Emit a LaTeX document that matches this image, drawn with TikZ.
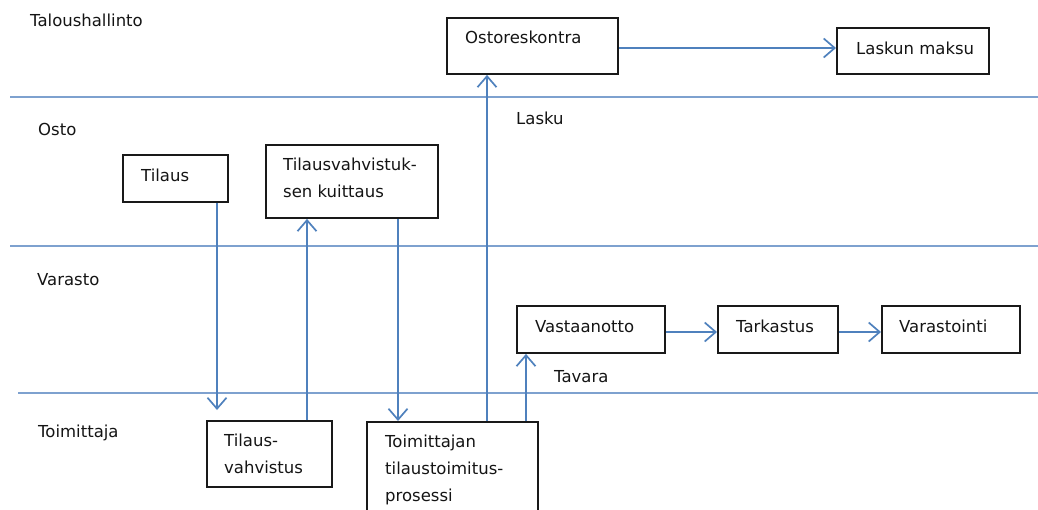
\documentclass[tikz,border=0pt]{standalone}
\usepackage{fontspec}
\setmainfont{DejaVu Sans}
\usetikzlibrary{arrows.meta}
\definecolor{flow}{HTML}{4F81BD}
\definecolor{lanecol}{HTML}{7EA1CF}
\definecolor{ink}{HTML}{141414}
\begin{document}
\begin{tikzpicture}[x=1pt,y=-1pt,
  font=\fontsize{16.5}{27}\selectfont,
  box/.style={draw=black!90, line width=1.9pt, inner sep=0pt, anchor=north west},
  txt/.style={anchor=base west, inner sep=0pt, text=ink, align=left},
  lanesep/.style={draw=lanecol, line width=2.4pt},
  flowarrow/.style={draw=flow, line width=1.7pt, -{Straight Barb[length=11pt,width=19pt,line width=1.7pt]}}]
\useasboundingbox (0,0) rectangle (1038,509);
% lane separators
\draw[lanesep] (10,97) -- (1038,97);
\draw[lanesep] (10,246) -- (1038,246);
\draw[lanesep] (18,393) -- (1038,393);
% lane labels
\node[txt] (l1) at (30,26) {Taloushallinto};
\node[txt] (l2) at (38,135) {Osto};
\node[txt] (l3) at (37,285) {Varasto};
\node[txt] (l4) at (38,437) {Toimittaja};
% boxes
\node[box, minimum width=171, minimum height=56] (ostor) at (446,17) {};
\node[box, minimum width=152, minimum height=46] (laskun) at (836,27) {};
\node[box, minimum width=105, minimum height=47] (tilaus) at (122,154) {};
\node[box, minimum width=172, minimum height=73] (kuitt) at (265,144) {};
\node[box, minimum width=148, minimum height=47] (vast) at (516,305) {};
\node[box, minimum width=120, minimum height=47] (tark) at (717,305) {};
\node[box, minimum width=138, minimum height=47] (varast) at (881,305) {};
\node[box, minimum width=125, minimum height=66] (vahv) at (206,420) {};
\node[box, minimum width=171, minimum height=100] (toim) at (366,421) {};
% box texts (multi-line nodes: base = last line)
\node[txt] (t1) at (465,43) {Ostoreskontra};
\node[txt] (t2) at (856,54) {Laskun maksu};
\node[txt] (t3) at (141,181) {Tilaus};
\node[txt] (t4) at (283,197) {Tilausvahvistuk-\\sen kuittaus};
\node[txt] (t5) at (535,332) {Vastaanotto};
\node[txt] (t6) at (736,332) {Tarkastus};
\node[txt] (t7) at (899,332) {Varastointi};
\node[txt] (t8) at (224,473) {Tilaus-\\vahvistus};
\node[txt] (t9) at (385,501) {Toimittajan\\tilaustoimitus-\\prosessi};
% edge labels
\node[txt] (lasku) at (516,124) {Lasku};
\node[txt] (tavara) at (554,382) {Tavara};
% helper coordinates
\coordinate (c217) at (217,410);
\coordinate (c307) at (307,0);
\coordinate (c398) at (398,0);
\coordinate (c487) at (487,0);
\coordinate (c526) at (526,0);
\coordinate (y48) at (0,48);
\coordinate (y332) at (0,332);
% connectors
\draw[flowarrow] (tilaus.south -| c217) -- (c217);
\draw[flowarrow] (vahv.north -| c307) -- (kuitt.south -| c307);
\draw[flowarrow] (kuitt.south -| c398) -- (toim.north -| c398);
\draw[flowarrow] (toim.north -| c487) -- (ostor.south -| c487);
\draw[flowarrow] (toim.north -| c526) -- (vast.south -| c526);
\draw[flowarrow] (ostor.east |- y48) -- (laskun.west |- y48);
\draw[flowarrow] (vast.east |- y332) -- (tark.west |- y332);
\draw[flowarrow] (tark.east |- y332) -- (varast.west |- y332);
\end{tikzpicture}
\end{document}
